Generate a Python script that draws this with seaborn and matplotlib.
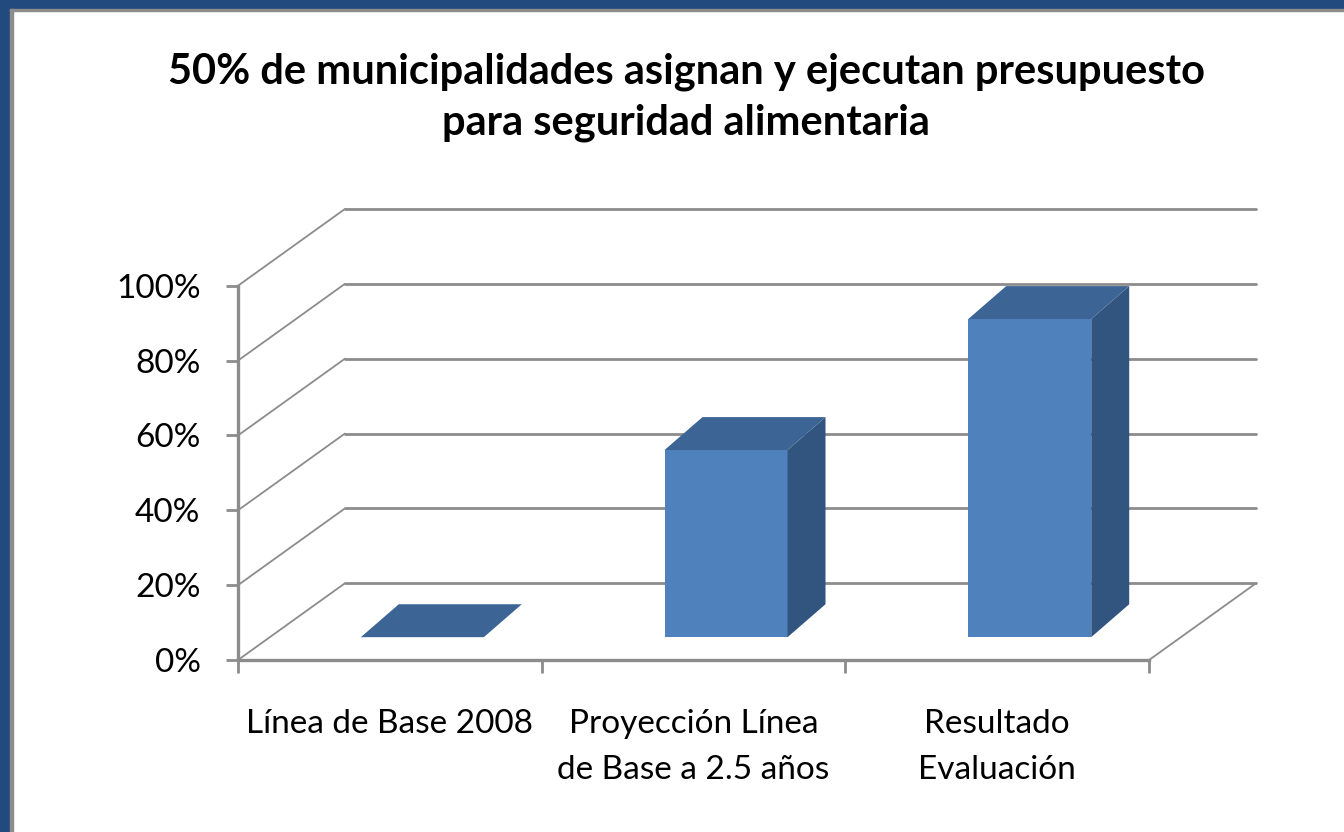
import matplotlib

matplotlib.use("Agg")

import matplotlib.pyplot as plt
import numpy as np
import pandas as pd
import seaborn as sns
from matplotlib.patches import Polygon, Rectangle

categories = ["Línea de Base 2008", "Proyección Línea\nde Base a 2.5 años", "Resultado\nEvaluación"]
values = [0, 50, 85]
y_ticks = [0, 20, 40, 60, 80, 100]
y_tick_labels = ["0%", "20%", "40%", "60%", "80%", "100%"]
title = "50% de municipalidades asignan y ejecutan presupuesto\npara seguridad alimentaria"

FRONT = "#4F81BD"
TOP = "#3C6494"
SIDE = "#325580"
GRID = "#8C8C8C"
BORDER = "#224A7E"

# oblique depth of the chart box and of the bars (data units)
DEPTH_X, DEPTH_Y = 0.352, 20.5
BAR_OFF_X, BAR_OFF_Y = 0.107, 6.1
BAR_DX, BAR_DY = 0.125, 8.8
BAR_WIDTH = 0.405

sns.set_theme(style="white")
plt.rcParams["font.family"] = ["Lato", "DejaVu Sans"]
plt.rcParams["text.color"] = "black"
plt.rcParams["xtick.color"] = "black"
plt.rcParams["ytick.color"] = "black"

fig = plt.figure(figsize=(13.44, 8.32), dpi=100)
ax = fig.add_axes([238 / 1344, 172 / 832, 1018 / 1344, 451 / 832])

df = pd.DataFrame({"categoria": categories, "valor": values})
sns.barplot(
    data=df, x="categoria", y="valor", color=FRONT, width=BAR_WIDTH,
    saturation=1, errorbar=None, linewidth=0, ax=ax, zorder=3,
)

# turn the flat bars into oblique boxes
for bar in list(ax.patches):
    bar.set_x(bar.get_x() + BAR_OFF_X)
    bar.set_y(BAR_OFF_Y)
    x0, y0, w, h = bar.get_x(), bar.get_y(), bar.get_width(), bar.get_height()
    side = [(x0 + w, y0), (x0 + w + BAR_DX, y0 + BAR_DY),
            (x0 + w + BAR_DX, y0 + h + BAR_DY), (x0 + w, y0 + h)]
    top = [(x0, y0 + h), (x0 + w, y0 + h),
           (x0 + w + BAR_DX, y0 + h + BAR_DY), (x0 + BAR_DX, y0 + h + BAR_DY)]
    ax.add_patch(Polygon(side, closed=True, facecolor=SIDE, edgecolor="none", zorder=3))
    ax.add_patch(Polygon(top, closed=True, facecolor=TOP, edgecolor="none", zorder=3))

x_left, x_right = -0.5, len(categories) - 0.5
for v in y_ticks:
    ax.plot([x_left, x_left + DEPTH_X], [v, v + DEPTH_Y], color=GRID, lw=1.3, zorder=1, clip_on=False)
    ax.plot([x_left + DEPTH_X, x_right + DEPTH_X], [v + DEPTH_Y] * 2, color=GRID, lw=2, zorder=1, clip_on=False)
ax.plot([x_right, x_right + DEPTH_X], [0, DEPTH_Y], color=GRID, lw=1.3, zorder=1, clip_on=False)

ax.set_xlim(x_left, x_right + DEPTH_X)
ax.set_ylim(0, 100 + DEPTH_Y)

for s in ["top", "right"]:
    ax.spines[s].set_visible(False)
ax.spines["left"].set_bounds(0, 100)
ax.spines["bottom"].set_bounds(x_left, x_right)
for s in ["left", "bottom"]:
    ax.spines[s].set_color(GRID)
    ax.spines[s].set_linewidth(2.4)

ax.set_yticks(y_ticks, y_tick_labels)
ax.tick_params(axis="y", length=9, width=2, color=GRID, labelcolor="black", pad=18, labelsize=24, left=True)
ax.set_xticks(range(len(categories)), categories)
ax.set_xticks(np.arange(x_left, x_right + 1), minor=True)
ax.tick_params(axis="x", which="major", length=0, pad=35, labelsize=24, labelcolor="black")
ax.tick_params(axis="x", which="minor", length=9, width=2, color=GRID, bottom=True)
for label in ax.get_xticklabels():
    label.set_linespacing(1.7)
ax.set_xlabel("")
ax.set_ylabel("")

fig.text(686 / 1344, 1 - 97 / 832, title, ha="center", va="center", color="black",
         fontsize=30, fontweight="bold", linespacing=1.4)

# window frame on the left and top edges
fig.add_artist(Rectangle((0, 0), 10 / 1344, 1, transform=fig.transFigure, color=BORDER, zorder=5))
fig.add_artist(Rectangle((0, 1 - 9 / 832), 1, 9 / 832, transform=fig.transFigure, color=BORDER, zorder=5))
fig.add_artist(Rectangle((10 / 1344, 0), 3 / 1344, 1 - 9 / 832, transform=fig.transFigure, color=GRID, zorder=5))
fig.add_artist(Rectangle((10 / 1344, 1 - 11 / 832), 1, 2 / 832, transform=fig.transFigure, color=GRID, zorder=5))

fig.savefig("out.png", dpi=100)
